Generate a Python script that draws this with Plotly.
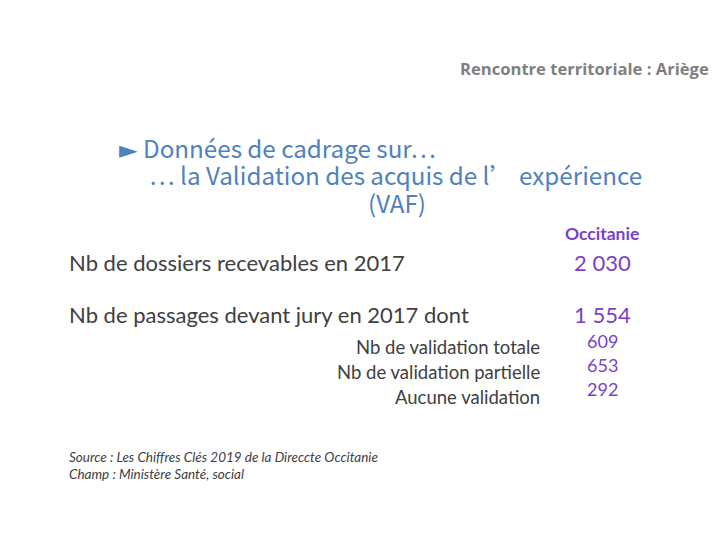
import plotly.graph_objects as go

header = "Rencontre territoriale : Ariège"
title_lines = ["► Données de cadrage sur…", "… la Validation des acquis de l’ expérience", "(VAF)"]
region = "Occitanie"
main_labels = ["Nb de dossiers recevables en 2017", "Nb de passages devant jury en 2017 dont"]
main_values = ["2 030", "1 554"]
sub_labels = ["Nb de validation totale", "Nb de validation partielle", "Aucune validation"]
sub_values = ["609", "653", "292"]
source_lines = ["Source : Les Chiffres Clés 2019 de la Direccte Occitanie",
                "Champ : Ministère Santé, social"]

BLUE = "#4f81bd"
PURPLE = "#7b3fc8"
DARK = "#404040"
GRAY = "#7f7f7f"
SANS = "Lato, 'Open Sans', sans-serif"
TITLE_FONT = "'Noto Sans CJK SC', 'DejaVu Sans', sans-serif"

# page body has an 8px margin: the plot covers screen pixels 8..712 / 8..532
OFF = 8

fig = go.Figure()
fig.add_trace(go.Scatter(x=[OFF, 720 - OFF], y=[OFF, 540 - OFF], mode="markers",
                         marker=dict(opacity=0), hoverinfo="skip", showlegend=False))

ann = []
def add(text, x, y, size, color, xanchor="left", family=SANS, bold=False, italic=False):
    t = text
    if bold:
        t = f"<b>{t}</b>"
    if italic:
        t = f"<i>{t}</i>"
    ann.append(dict(text=t, x=x, y=y, xref="x", yref="y", xanchor=xanchor, yanchor="middle",
                    showarrow=False, font=dict(size=size, color=color, family=family)))

add(header, 711, 68, 16.6, GRAY, xanchor="right", bold=True, family="'Open Sans', sans-serif")

add(title_lines[0], 117, 147, 24.2, BLUE, family=TITLE_FONT)
add(title_lines[1], 147, 174, 24.2, BLUE, family=TITLE_FONT)
add(title_lines[2], 397, 202, 24.2, BLUE, xanchor="center", family=TITLE_FONT)

add(region, 602, 233, 17.5, PURPLE, xanchor="center", bold=True)

main_y = [262, 314]
for lab, val, y in zip(main_labels, main_values, main_y):
    add(lab, 67, y, 22, DARK)
    add(val, 602, y, 22, PURPLE, xanchor="center")

sub_label_y = [347, 372, 397]
sub_value_y = [341, 365, 389]
for lab, val, yl, yv in zip(sub_labels, sub_values, sub_label_y, sub_value_y):
    add(lab, 542, yl, 18.5, DARK, xanchor="right")
    add(val, 602, yv, 18, PURPLE, xanchor="center")

for i, line in enumerate(source_lines):
    add(line, 67, 457 + 17 * i, 13.5, DARK, italic=True)

fig.update_layout(
    width=720 - 2 * OFF, height=540 - 2 * OFF,
    margin=dict(l=0, r=0, t=0, b=0),
    paper_bgcolor="white", plot_bgcolor="white",
    xaxis=dict(range=[OFF, 720 - OFF], visible=False, fixedrange=True),
    yaxis=dict(range=[540 - OFF, OFF], visible=False, fixedrange=True),
    annotations=ann,
)
fig.write_html("out.html")
